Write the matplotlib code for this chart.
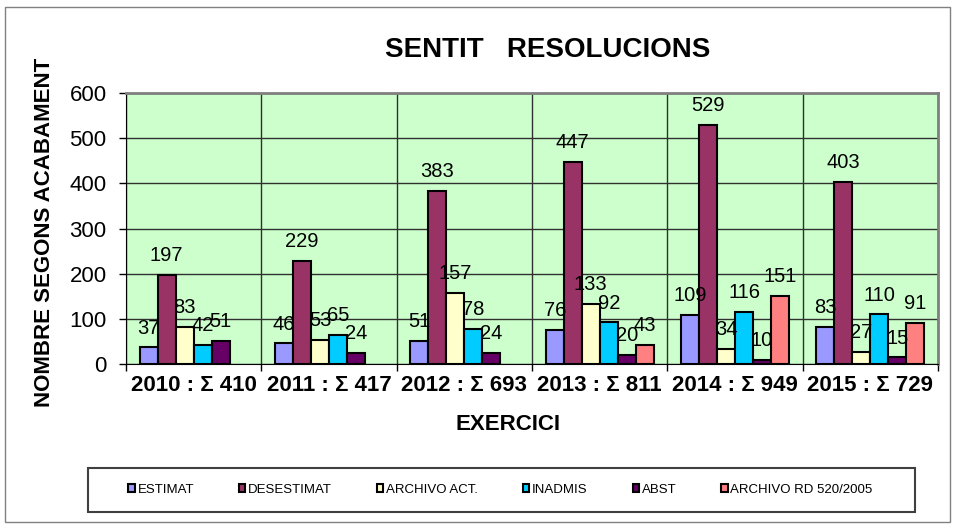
import numpy as np
import matplotlib
matplotlib.use("Agg")
import matplotlib.pyplot as plt
from matplotlib.patches import Rectangle

plt.rcParams['font.family'] = ['Liberation Sans', 'DejaVu Sans']

years = ['2010 : Σ 410', '2011 : Σ 417', '2012 : Σ 693', '2013 : Σ 811', '2014 : Σ 949', '2015 : Σ 729']
series = ['ESTIMAT', 'DESESTIMAT', 'ARCHIVO ACT.', 'INADMIS', 'ABST', 'ARCHIVO RD 520/2005']
estimat = [37, 46, 51, 76, 109, 83]
desestimat = [197, 229, 383, 447, 529, 403]
archivo_act = [83, 53, 157, 133, 34, 27]
inadmis = [42, 65, 78, 92, 116, 110]
abst = [51, 24, 24, 20, 10, 15]
archivo_rd = [None, None, None, 43, 151, 91]
colors = ['#9999FF', '#993366', '#FFFFCC', '#00CCFF', '#660066', '#FF8080']

values = [estimat, desestimat, archivo_act, inadmis, abst, archivo_rd]

fig = plt.figure(figsize=(9.57, 5.24), dpi=100)
# outer chart border
fig.patches.append(Rectangle((0.005, 0.004), 0.988, 0.983, transform=fig.transFigure,
                             fill=False, edgecolor='#808080', lw=1))
# legend frame (drawn by hand so its size matches)
fig.patches.append(Rectangle((88 / 957, 1 - 512 / 524), 827 / 957, 44 / 524,
                             transform=fig.transFigure, fill=False,
                             edgecolor='#404040', lw=1.5))

ax = fig.add_axes([0.1317, 0.3053, 0.8485, 0.5172])
ax.set_facecolor('#CCFFCC')

x = np.arange(len(years))
w = 0.133
for i, (name, vals, c) in enumerate(zip(series, values, colors)):
    xs = [xi + (i - 2.5) * w for xi, v in zip(x, vals) if v is not None]
    vs = [v for v in vals if v is not None]
    ax.bar(xs, vs, width=w, color=c, edgecolor='black', lw=1.5, label=name, zorder=3)
    for xx, v in zip(xs, vs):
        ax.annotate(str(v), (xx, v), xytext=(0, 7), textcoords='offset points',
                    ha='center', va='bottom', fontsize=14.5, zorder=4)

ax.set_xlim(-0.5, len(years) - 0.5)
ax.set_ylim(0, 600)
ax.set_yticks(range(0, 601, 100))
ax.set_xticks(x)
ax.set_xticklabels(years, fontsize=16, fontweight='bold')
ax.set_xticks(np.arange(-0.5, len(years)), minor=True)
ax.tick_params(axis='x', which='major', length=0, pad=8)
ax.tick_params(axis='x', which='minor', length=5, width=1, color='black')
ax.tick_params(axis='y', labelsize=16, length=5, width=1, direction='out', pad=9)
ax.grid(axis='y', color='#303030', lw=1, zorder=1)
ax.grid(axis='x', which='minor', color='#303030', lw=1, zorder=1)
for s in ['top', 'right']:
    ax.spines[s].set_color('#808080')
    ax.spines[s].set_linewidth(2)
ax.spines['left'].set_color('black')
ax.spines['bottom'].set_color('black')

fig.text(0.531, 0.189, 'EXERCICI', ha='center', va='center', fontsize=16, fontweight='bold')
fig.text(0.047, 0.557, 'NOMBRE SEGONS ACABAMENT', ha='center', va='center', rotation=90,
         fontsize=16, fontweight='bold')
fig.text(0.572, 0.905, 'SENTIT   RESOLUCIONS', ha='center', va='center', fontsize=20, fontweight='bold')

leg = fig.legend(loc='center', bbox_to_anchor=(0.523, 0.065), ncol=6, fontsize=9.5,
                 frameon=False, handlelength=0.5,
                 handleheight=0.5, handletextpad=0.2, columnspacing=3.4,
                 borderpad=0, borderaxespad=0)
for h in leg.legend_handles:
    h.set_linewidth(1.5)

fig.savefig('out.png', dpi=100)
